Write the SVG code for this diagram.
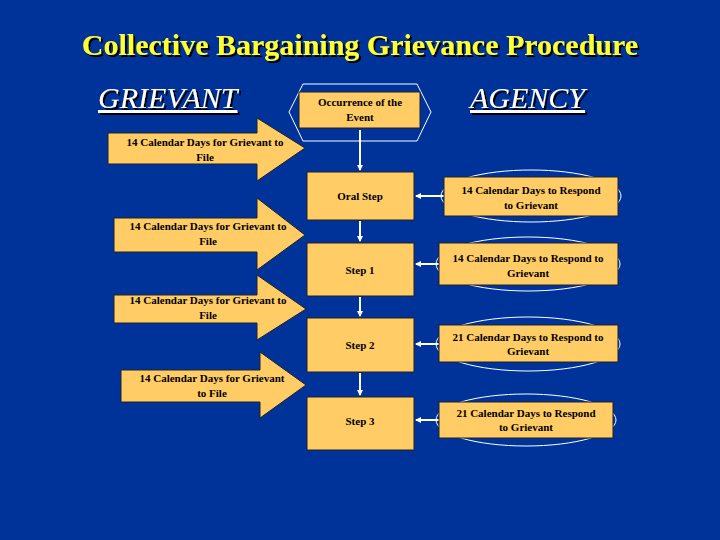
<svg xmlns="http://www.w3.org/2000/svg" width="720" height="540" viewBox="0 0 720 540">
<defs>
<style>
.bx{fill:#FFCC66;stroke:#222;stroke-width:1}
.t{font-family:"Liberation Serif",serif;font-weight:bold;font-size:11px;fill:#000;text-anchor:middle}
.h{font-family:"Liberation Serif",serif;font-style:italic;font-size:30px;fill:#fff;text-decoration:underline}
.ol{fill:none;stroke:#fff;stroke-width:1}
.c{stroke:#fff;stroke-width:2;fill:none}
</style>
<filter id="sh" x="-5%" y="-20%" width="110%" height="140%"><feDropShadow dx="2" dy="2" stdDeviation="0" flood-color="#000"/></filter>
<marker id="ah" markerWidth="6" markerHeight="6" refX="5" refY="3" orient="auto" markerUnits="userSpaceOnUse"><path d="M0,0L6,3L0,6z" fill="#fff"/></marker>
</defs>
<rect width="720" height="540" fill="#003399"/>
<text x="360" y="55" font-family="Liberation Serif,serif" font-weight="bold" font-size="30" fill="#FFFF33" text-anchor="middle" filter="url(#sh)">Collective Bargaining Grievance Procedure</text>
<text x="98" y="108" class="h" filter="url(#sh)">GRIEVANT</text>
<text x="470" y="108" class="h" filter="url(#sh)">AGENCY</text>
<g id="connectors">
<line x1="360" y1="130" x2="360" y2="170" class="c" marker-end="url(#ah)"/>
<line x1="360" y1="221" x2="360" y2="241" class="c" marker-end="url(#ah)"/>
<line x1="360" y1="297" x2="360" y2="316" class="c" marker-end="url(#ah)"/>
<line x1="360" y1="373" x2="360" y2="395" class="c" marker-end="url(#ah)"/>
<line x1="444" y1="196" x2="416" y2="196" class="c" marker-end="url(#ah)"/>
<line x1="439" y1="264" x2="416" y2="264" class="c" marker-end="url(#ah)"/>
<line x1="439" y1="344" x2="416" y2="344" class="c" marker-end="url(#ah)"/>
<line x1="439" y1="420" x2="416" y2="420" class="c" marker-end="url(#ah)"/>
</g>
<g id="occurrence">
<path d="M303,84L417,84L431,112L417,141L303,141L289,112z" class="ol"/>
<rect x="299" y="92" width="121" height="36" class="bx"/>
<text x="360" y="106" class="t">Occurrence of the</text><text x="360" y="121" class="t">Event</text>
</g>
<g id="oral"><rect x="307" y="172" width="107" height="48" class="bx"/><text x="360" y="200" class="t">Oral Step</text></g>
<g id="step1"><rect x="307" y="243" width="107" height="53" class="bx"/><text x="360" y="274" class="t">Step 1</text></g>
<g id="step2"><rect x="307" y="318" width="107" height="54" class="bx"/><text x="360" y="349" class="t">Step 2</text></g>
<g id="step3"><rect x="307" y="397" width="107" height="53" class="bx"/><text x="360" y="425" class="t">Step 3</text></g>
<g id="r0"><ellipse cx="531" cy="196" rx="90" ry="26" class="ol"/><rect x="444" y="177" width="174" height="39" class="bx"/><text x="531" y="194" class="t">14 Calendar Days to Respond</text><text x="531" y="209" class="t">to Grievant</text></g>
<g id="r1"><ellipse cx="528" cy="264" rx="92" ry="27" class="ol"/><rect x="439" y="243" width="179" height="42" class="bx"/><text x="528" y="262" class="t">14 Calendar Days to Respond to</text><text x="528" y="277" class="t">Grievant</text></g>
<g id="r2"><ellipse cx="528" cy="344" rx="92" ry="27" class="ol"/><rect x="439" y="325" width="179" height="37" class="bx"/><text x="528" y="341" class="t">21 Calendar Days to Respond to</text><text x="528" y="355" class="t">Grievant</text></g>
<g id="r3"><ellipse cx="526" cy="420" rx="90" ry="26" class="ol"/><rect x="439" y="402" width="174" height="36" class="bx"/><text x="526" y="417" class="t">21 Calendar Days to Respond</text><text x="526" y="431" class="t">to Grievant</text></g>
<g id="a1"><path d="M108,133L257,133L257,118L305,148L257,181L257,164L108,164z" class="bx"/><text x="205" y="146" class="t">14 Calendar Days for Grievant to</text><text x="205" y="161" class="t">File</text></g>
<g id="a2"><path d="M114,218L257,218L257,198L305,235L257,270L257,252L114,252z" class="bx"/><text x="208" y="230" class="t">14 Calendar Days for Grievant to</text><text x="208" y="245" class="t">File</text></g>
<g id="a3"><path d="M114,295L257,295L257,275L306,309L257,340L257,323L114,323z" class="bx"/><text x="208" y="304" class="t">14 Calendar Days for Grievant to</text><text x="208" y="319" class="t">File</text></g>
<g id="a4"><path d="M121,370L260,370L260,352L306,385L260,418L260,402L121,402z" class="bx"/><text x="212" y="382" class="t">14 Calendar Days for Grievant</text><text x="212" y="397" class="t">to File</text></g>
</svg>
